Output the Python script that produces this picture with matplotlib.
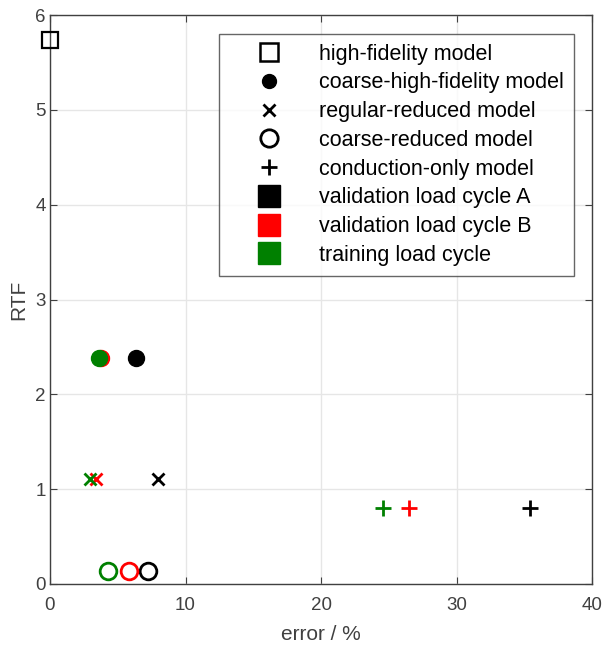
import matplotlib
matplotlib.use("Agg")
import matplotlib.pyplot as plt
from matplotlib.lines import Line2D

plt.rcParams['font.family'] = ['Liberation Sans', 'DejaVu Sans']

cycles = ["validation load cycle A", "validation load cycle B", "training load cycle"]
cycle_colors = ["black", "red", "green"]

# high-fidelity model (only one point)
hf_err = [0.0]
hf_rtf = [5.74]

# errors in %, order: A, B, training
chf_err = [6.35, 3.75, 3.65]
chf_rtf = [2.38, 2.38, 2.38]
rr_err = [7.95, 3.4, 2.95]
rr_rtf = [1.11, 1.11, 1.11]
cr_err = [7.2, 5.85, 4.3]
cr_rtf = [0.14, 0.14, 0.14]
co_err = [35.4, 26.5, 24.6]
co_rtf = [0.80, 0.80, 0.80]

model_labels = ["high-fidelity model", "coarse-high-fidelity model",
                "regular-reduced model", "coarse-reduced model",
                "conduction-only model"]

fig = plt.figure(figsize=(6.07, 6.46), dpi=100)
ax = fig.add_axes([50/607, 62/646, 542/607, 569/646])

gc = "#404040"
ax.set_xlim(0, 40)
ax.set_ylim(0, 6)
ax.set_xticks([0, 10, 20, 30, 40])
ax.set_yticks([0, 1, 2, 3, 4, 5, 6])
ax.grid(True, color="#e6e6e6", linewidth=1)
ax.set_axisbelow(True)
for s in ax.spines.values():
    s.set_color(gc)
    s.set_linewidth(1)
ax.tick_params(direction="in", top=True, right=True, length=5, color=gc,
               labelcolor=gc, labelsize=13.5)
ax.tick_params(axis="x", pad=9)
ax.tick_params(axis="y", pad=3)
ax.set_xlabel("error / %", fontsize=15, color=gc, labelpad=8)
ax.set_ylabel("RTF", fontsize=15, color=gc, labelpad=5)

ax.plot(hf_err, hf_rtf, ls="none", marker="s", ms=12, mfc="none", mec="black",
        mew=1.6, clip_on=False, zorder=5)
for i in [0, 1, 2]:
    c = cycle_colors[i]
    ax.plot([chf_err[i]], [chf_rtf[i]], ls="none", marker="o", ms=11.5, mfc=c, mec=c, zorder=4)
for i in [0, 1, 2]:
    c = cycle_colors[i]
    ax.plot([rr_err[i]], [rr_rtf[i]], ls="none", marker="x", ms=9, mec=c, mew=2, zorder=4)
    ax.plot([cr_err[i]], [cr_rtf[i]], ls="none", marker="o", ms=12, mfc="none", mec=c, mew=2, zorder=4)
    ax.plot([co_err[i]], [co_rtf[i]], ls="none", marker="+", ms=12, mec=c, mew=2, zorder=4)

handles = [
    Line2D([], [], ls="none", marker="s", ms=13, mfc="none", mec="black", mew=1.8),
    Line2D([], [], ls="none", marker="o", ms=10, mfc="black", mec="black"),
    Line2D([], [], ls="none", marker="x", ms=8.5, mec="black", mew=2),
    Line2D([], [], ls="none", marker="o", ms=12.5, mfc="none", mec="black", mew=2),
    Line2D([], [], ls="none", marker="+", ms=12, mec="black", mew=2),
]
for c in cycle_colors:
    handles.append(Line2D([], [], ls="none", marker="s", ms=16.5, mfc=c, mec=c))
labels = model_labels + cycles
leg = ax.legend(handles, labels, loc="upper right",
                bbox_to_anchor=((574 - 50) / 542, (584 - 34) / 569),
                fontsize=15.5, frameon=True, fancybox=False, edgecolor=gc,
                handlelength=3.8, handletextpad=0.42, labelspacing=0.36,
                borderpad=0.45, borderaxespad=0, markerscale=1)
leg.get_frame().set_linewidth(1)
for t in leg.get_texts():
    t.set_color("black")

fig.savefig("out.png", dpi=100)
